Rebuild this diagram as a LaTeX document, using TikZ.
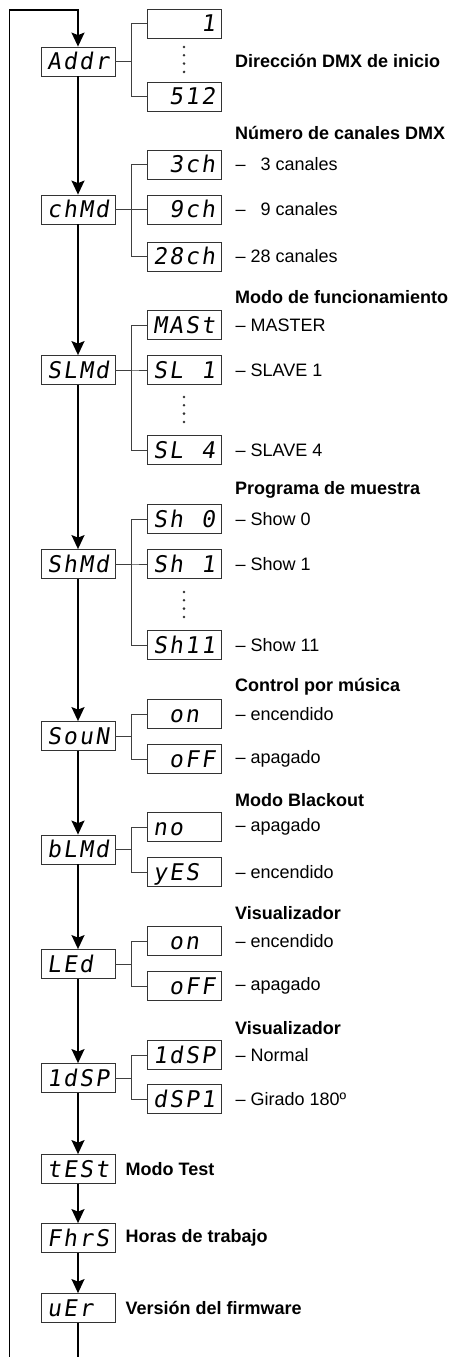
\documentclass[tikz,border=0pt]{standalone}
\usepackage{fontspec}
\setmainfont{Liberation Sans}
\newfontfamily\segfont[FakeSlant=0.15]{DejaVu Sans Mono}
\usepackage{tikz}
\usetikzlibrary{arrows.meta,positioning}

% one fixed cell per display digit
\newcommand\segtext[1]{\segnext#1\relax}
\def\segnext#1{\ifx\relax#1\else\makebox[16pt]{#1}\expandafter\segnext\fi}

\begin{document}
\begin{tikzpicture}[
    x=1pt, y=-1pt,
    display/.style={
        rectangle,
        draw=black!80,
        line width=0.8pt,
        minimum width=74pt,
        minimum height=29pt,
        inner sep=0pt,
        text height=16.5pt,
        text depth=0pt,
        font=\segfont\fontsize{23}{23}\selectfont
    },
    menu/.style={display},
    option/.style={display},
    flow/.style={-{Stealth[length=14pt, width=13pt, inset=2.5pt]}, line width=1.6pt},
    trunk/.style={line width=1.6pt},
    branch/.style={line width=0.9pt, draw=black!75},
    heading/.style={font=\bfseries\fontsize{18}{21}\selectfont, anchor=west, inner sep=0pt},
    choice/.style={font=\fontsize{18}{21}\selectfont, anchor=west, inner sep=0pt}
]
\useasboundingbox (0,0) rectangle (453,1357);

% ---------------------------------------------------------------- Menu
\node[menu] (addr) at (78,  61.5) {\segtext{Addr}};
\node[menu] (chmd) at (78, 209.5) {\segtext{chMd}};
\node[menu] (slmd) at (78, 370)   {\segtext{SLMd}};
\node[menu] (shmd) at (78, 564)   {\segtext{ShMd}};
\node[menu] (soun) at (78, 736)   {\segtext{SouN}};
\node[menu] (blmd) at (78, 849.5) {\segtext{bLMd}};
\node[menu] (led)  at (78, 964)   {\segtext{LEd~}};
\node[menu] (idsp) at (78, 1078)  {\segtext{1dSP}};
\node[menu] (test) at (78, 1169)  {\segtext{tESt}};
\node[menu] (fhrs) at (78, 1238)  {\segtext{FhrS}};
\node[menu] (ver)  at (78, 1308)  {\segtext{uEr~}};

% ---------------------------------------------------------------- Options
\node[option] (addrOne) at (184, 23.5)  {\segtext{~~~1}};
\node[option] (addrMax) at (184, 96.5)  {\segtext{~512}};

\node[option] (ch3)  at (184, 164.5) {\segtext{~3ch}};
\node[option] (ch9)  at (184, 209.5) {\segtext{~9ch}};
\node[option] (ch28) at (184, 256.5) {\segtext{28ch}};

\node[option] (slMast) at (184, 325) {\segtext{MASt}};
\node[option] (slOne)  at (184, 370) {\segtext{SL~1}};
\node[option] (slFour) at (184, 450) {\segtext{SL~4}};

\node[option] (shZero)   at (184, 519) {\segtext{Sh~0}};
\node[option] (shOne)    at (184, 564) {\segtext{Sh~1}};
\node[option] (shEleven) at (184, 645) {\segtext{Sh11}};

\node[option] (sounOn)  at (184, 714) {\segtext{~on~}};
\node[option] (sounOff) at (184, 759) {\segtext{~oFF}};

\node[option] (blmdNo)  at (184, 827) {\segtext{no~~}};
\node[option] (blmdYes) at (184, 872) {\segtext{yES~}};

\node[option] (ledOn)  at (184, 941) {\segtext{~on~}};
\node[option] (ledOff) at (184, 986) {\segtext{~oFF}};

\node[option] (idspUp)   at (184, 1055) {\segtext{1dSP}};
\node[option] (idspDown) at (184, 1099) {\segtext{dSP1}};

% dots between first and last value
\foreach \y in {47, 397, 592}
    \foreach \k in {0,...,3}
        \fill[black!80] (184, \y+\k*8.3) circle (1.4pt);

% ---------------------------------------------------------------- Labels
\node[heading] (addrHead) at (235, 61)   {Dirección DMX de inicio};

\node[heading] (chHead) at (235, 133) {Número de canales DMX};
\node[choice, right=14pt of ch3]  {–\hspace{0.278em}\phantom{2}3 canales};
\node[choice, right=14pt of ch9]  {–\hspace{0.278em}\phantom{2}9 canales};
\node[choice, right=14pt of ch28] {– 28 canales};

\node[heading] (slHead) at (235, 297) {Modo de funcionamiento};
\node[choice, right=14pt of slMast] {– MASTER};
\node[choice, right=14pt of slOne]  {– SLAVE 1};
\node[choice, right=14pt of slFour] {– SLAVE 4};

\node[heading] (shHead) at (235, 490) {Programa de muestra};
\node[choice, right=14pt of shZero]   {– Show 0};
\node[choice, right=14pt of shOne]    {– Show 1};
\node[choice, right=14pt of shEleven] {– Show 11};

\node[heading] (sounHead) at (235, 687) {Control por música};
\node[choice, right=14pt of sounOn]  {– encendido};
\node[choice, right=14pt of sounOff] {– apagado};

\node[heading] (blmdHead) at (235, 800) {Modo Blackout};
\node[choice, right=14pt of blmdNo]  {– apagado};
\node[choice, right=14pt of blmdYes] {– encendido};

\node[heading] (ledHead) at (235, 913) {Visualizador};
\node[choice, right=14pt of ledOn]  {– encendido};
\node[choice, right=14pt of ledOff] {– apagado};

\node[heading] (idspHead) at (235, 1028) {Visualizador};
\node[choice, right=14pt of idspUp]   {– Normal};
\node[choice, right=14pt of idspDown] {– Girado 180º};

\node[heading, right=10pt of test] {Modo Test};
\node[heading, right=10pt of fhrs] {Horas de trabajo};
\node[heading, right=10pt of ver]  {Versión del firmware};

% ---------------------------------------------------------------- Connections
% main loop
\coordinate (loopIn)  at (9.5, 1357);
\coordinate (loopTop) at (78, 10);
\draw[flow] (loopIn) |- (loopTop) -- (addr.north);
\foreach \a/\b in {addr/chmd, chmd/slmd, slmd/shmd, shmd/soun, soun/blmd,
                   blmd/led, led/idsp, idsp/test, test/fhrs, fhrs/ver}
    \draw[flow] (\a.south) -- (\b.north);
\draw[trunk] (ver.south) -- (ver.south |- loopIn);

% values of each menu
\foreach \m/\o in {addr/addrOne, addr/addrMax,
                   chmd/ch3, chmd/ch9, chmd/ch28,
                   slmd/slMast, slmd/slOne, slmd/slFour,
                   shmd/shZero, shmd/shOne, shmd/shEleven,
                   soun/sounOn, soun/sounOff,
                   blmd/blmdNo, blmd/blmdYes,
                   led/ledOn, led/ledOff,
                   idsp/idspUp, idsp/idspDown}
    \draw[branch] (\m.east) -- ++(16,0) |- (\o.west);

\end{tikzpicture}
\end{document}
